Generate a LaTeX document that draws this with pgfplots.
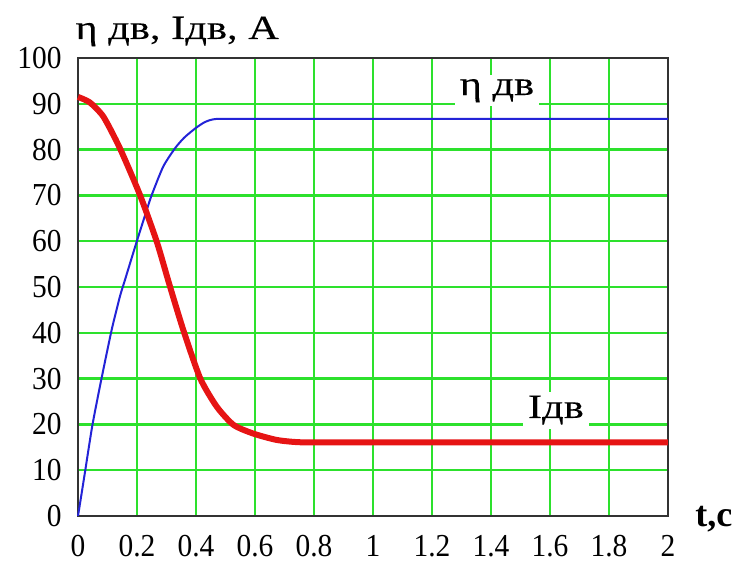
\documentclass[border=0pt]{standalone}
\usepackage{fontspec}
\setmainfont{Liberation Serif}
\newfontfamily\tickfont[FakeStretch=0.92]{Liberation Serif}
\newfontfamily\labfont[FakeStretch=1.25, FakeBold=0.15]{Liberation Serif}
\usepackage{pgfplots}
\pgfplotsset{compat=1.18}
\definecolor{gridgreen}{RGB}{45,225,45}
\definecolor{cred}{RGB}{230,20,20}
\definecolor{cblue}{RGB}{35,35,215}
\begin{document}
\begin{tikzpicture}
\begin{axis}[
  name=ax,
  scale only axis, width=295pt, height=229pt,
  xmin=0, xmax=2, ymin=0, ymax=100,
  xtick={0,0.2,0.4,0.6,0.8,1,1.2,1.4,1.6,1.8,2},
  xticklabels={0,0.2,0.4,0.6,0.8,1,1.2,1.4,1.6,1.8,2},
  ytick={0,10,20,30,40,50,60,70,80,90,100},
  grid=major, major grid style={gridgreen, line width=1.2pt},
  major tick length=0pt,
  axis line style={black!80, line width=1pt},
  /pgf/number format/assume math mode=true,
  tick label style={font=\fontsize{16}{19}\tickfont, inner sep=0pt},
  xticklabel style={yshift=-9.5pt},
  yticklabel style={xshift=-8pt},
  clip=false,
]
\addplot[cblue, line width=1pt, smooth, tension=0.4] coordinates {
(0,0) (0.01,4) (0.024,9.7) (0.049,19.9) (0.08,30.1) (0.114,40.6) (0.142,47.9)
(0.159,51.5) (0.199,59.9) (0.233,66.8) (0.25,70.1) (0.289,76.3) (0.329,80.3)
(0.36,82.6) (0.397,84.6) (0.43,86) (0.47,86.7) (0.6,86.7) (1,86.7) (2,86.7)};
\addplot[cred, line width=3pt, smooth, tension=0.4] coordinates {
(0,91.5) (0.04,90.3) (0.086,87.2) (0.142,80.3) (0.21,70.1) (0.267,59.9)
(0.31,50.5) (0.357,40.6) (0.414,30.1) (0.47,23.9) (0.527,19.9) (0.594,18.0)
(0.674,16.6) (0.753,16.1) (0.9,16.1) (1.4,16.1) (2,16.1)};
\node[fill=white, inner xsep=2.5pt, inner ysep=2pt, anchor=base, font=\fontsize{17}{20}\labfont] at (axis cs:1.42,91.9) {η дв};
\node[fill=white, inner xsep=2.5pt, inner ysep=2pt, anchor=base, font=\fontsize{17}{20}\labfont] at (axis cs:1.62,21.4) {Iдв};
\node[anchor=base west, inner sep=0pt, font=\fontsize{17}{20}\labfont] at (rel axis cs:0,1) [xshift=-1.5pt, yshift=9.5pt] {η дв, Iдв, A};
\node[anchor=base west, inner sep=0pt, font=\fontsize{18}{21}\selectfont\bfseries] at (rel axis cs:1,0) [xshift=13.5pt, yshift=-5.5pt] {t,c};
\end{axis}
\pgfresetboundingbox
\path[use as bounding box] ([shift={(-39pt,-22.5pt)}]ax.south west) rectangle ([shift={(36pt,29pt)}]ax.north east);
\end{tikzpicture}
\end{document}
